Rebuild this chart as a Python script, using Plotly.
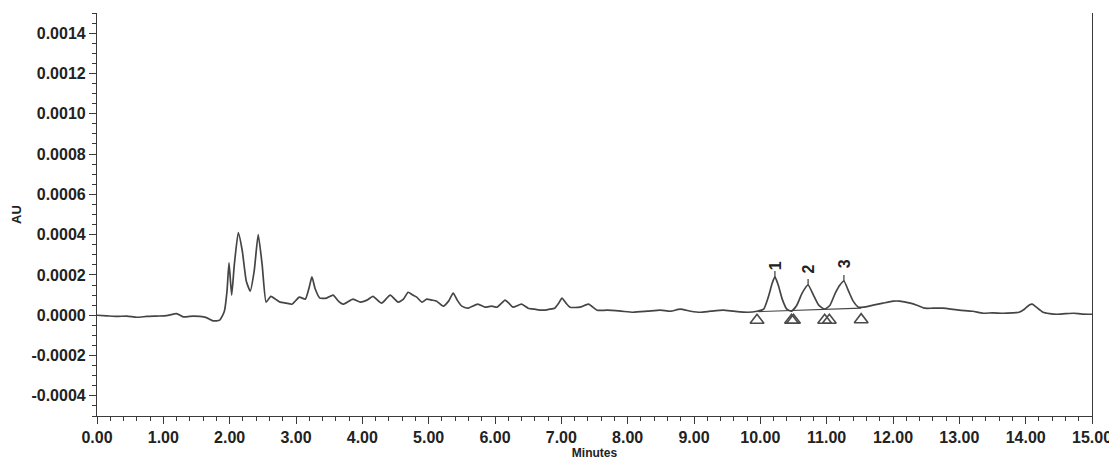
import plotly.graph_objects as go

# Chromatogram trace (minutes, AU)
time_min = [0.0, 0.15, 0.3, 0.45, 0.6, 0.75, 0.9, 1.05, 1.2, 1.3, 1.45, 1.55, 1.65, 1.75, 1.85,
            1.92, 1.96, 1.99, 2.03, 2.07, 2.13, 2.19, 2.25, 2.31, 2.37, 2.43, 2.49, 2.55, 2.62,
            2.69, 2.76, 2.85, 2.94, 3.05, 3.14, 3.2, 3.24, 3.29, 3.36, 3.46, 3.56, 3.64, 3.71,
            3.86, 3.97, 4.07, 4.16, 4.29, 4.42, 4.54, 4.62, 4.69, 4.76, 4.82, 4.9, 4.97, 5.05,
            5.12, 5.22, 5.3, 5.37, 5.43, 5.5, 5.59, 5.74, 5.85, 5.95, 6.03, 6.1, 6.15, 6.21,
            6.27, 6.4, 6.5, 6.6, 6.72, 6.82, 6.9, 6.96, 7.01, 7.07, 7.13, 7.28, 7.41, 7.54,
            7.69, 7.9, 8.08, 8.3, 8.49, 8.65, 8.79, 8.95, 9.09, 9.25, 9.44, 9.6, 9.81, 9.95,
            10.05, 10.12, 10.18, 10.22, 10.27, 10.33, 10.40, 10.47, 10.55, 10.63, 10.72, 10.80,
            10.88, 10.97, 11.05, 11.13, 11.20, 11.26, 11.33, 11.40, 11.48, 11.55, 11.7, 11.85,
            12.0, 12.1, 12.26, 12.36, 12.48, 12.6, 12.75, 13.0, 13.2, 13.36, 13.5, 13.66, 13.8,
            13.9, 13.98, 14.05, 14.1, 14.16, 14.26, 14.36, 14.47, 14.6, 14.72, 14.85, 15.0]
absorb = [0.0, -0.000003, -0.000006, -0.000004, -0.00001, -0.000006, -0.000004, -0.000002,
          0.000008, -0.000008, -0.000004, -0.000006, -0.000012, -0.000028, -0.000024,
          0.00002, 0.00012, 0.00026, 0.0001, 0.00025, 0.00041, 0.00032, 0.00017, 0.00012,
          0.00022, 0.0004, 0.00025, 0.000065, 0.000094, 0.00008, 0.000065, 0.00006, 0.000055,
          0.00009, 0.00008, 0.00014, 0.00019, 0.00013, 0.000085, 0.000085, 0.0001, 0.00007,
          0.000055, 0.00008, 0.000065, 0.000075, 0.000094, 0.00006, 0.0001, 0.000065, 0.00008,
          0.000114, 0.0001, 0.00009, 0.000065, 0.00008, 0.000075, 0.00007, 0.000045, 0.00007,
          0.00011, 0.000075, 0.000045, 0.000035, 0.000055, 0.00004, 0.000045, 0.00004,
          0.00006, 0.000075, 0.00006, 0.00004, 0.000055, 0.000035, 0.00003, 0.000025, 0.00003,
          0.000035, 0.00006, 0.000085, 0.00006, 0.00004, 0.00004, 0.000055, 0.000025,
          0.000025, 0.00002, 0.000015, 0.00002, 0.000025, 0.00002, 0.00003, 0.00002, 0.000015,
          0.00002, 0.000025, 0.00002, 0.000015, 0.00002,
          0.00003, 0.00009, 0.00016, 0.00019, 0.00015, 0.00008, 0.00003, 0.00002, 0.00005,
          0.00011, 0.00015, 0.0001, 0.00005, 0.00003, 0.00005, 0.00011, 0.00015, 0.00017,
          0.00012, 0.00007, 0.00004, 0.00004, 0.00005, 0.00006, 0.00007, 0.00007, 0.00006,
          0.00005, 0.000035, 0.000035, 0.000035, 0.000025, 0.00002, 0.00001, 0.000012,
          0.00001, 0.000012, 0.000015, 0.00003, 0.00005, 0.000055, 0.00004, 0.000015,
          0.000008, 0.000005, 0.000008, 0.00001, 0.000006, 0.000005]

# Integrated peaks
peak_names = ["1", "2", "3"]
peak_time = [10.22, 10.72, 11.26]
peak_top = [0.00019, 0.00015, 0.00017]
label_y = [0.000248, 0.000228, 0.000258]

# Integration baseline and start/end markers
base_time = [9.97, 11.52]
base_au = [0.000018, 0.000035]
marker_time = [9.95, 10.47, 10.50, 10.97, 11.04, 11.52]
marker_au = [-0.000025, -0.000025, -0.000025, -0.000025, -0.000025, -0.000022]

x_ticks = [0, 1, 2, 3, 4, 5, 6, 7, 8, 9, 10, 11, 12, 13, 14, 15]
x_text = ["0.00", "1.00", "2.00", "3.00", "4.00", "5.00", "6.00", "7.00", "8.00",
          "9.00", "10.00", "11.00", "12.00", "13.00", "14.00", "15.00"]
y_ticks = [-0.0004, -0.0002, 0.0, 0.0002, 0.0004, 0.0006, 0.0008, 0.0010, 0.0012, 0.0014]
y_text = ["-0.0004", "-0.0002", "0.0000", "0.0002", "0.0004", "0.0006", "0.0008",
          "0.0010", "0.0012", "0.0014"]

FONT = "Liberation Sans, Arial, sans-serif"
INK = "#3a3a3a"

fig = go.Figure()
fig.add_trace(go.Scatter(x=time_min, y=absorb, mode="lines",
                         line=dict(color="#454545", width=1.7, shape="spline", smoothing=0.5),
                         hoverinfo="skip", showlegend=False))
fig.add_trace(go.Scatter(x=base_time, y=base_au, mode="lines",
                         line=dict(color="#454545", width=1.2),
                         hoverinfo="skip", showlegend=False))
fig.add_trace(go.Scatter(x=marker_time, y=marker_au, mode="markers",
                         marker=dict(symbol="triangle-up-open", size=12,
                                     color="#4a4a4a", line=dict(width=1.6, color="#4a4a4a")),
                         hoverinfo="skip", showlegend=False))

for name, t, top, ly in zip(peak_names, peak_time, peak_top, label_y):
    fig.add_shape(type="line", x0=t, x1=t, y0=top, y1=top + 0.00003,
                  line=dict(color=INK, width=1.2))
    fig.add_annotation(x=t, y=ly, text="<b>" + name + "</b>", showarrow=False,
                       textangle=-90, font=dict(family=FONT, size=16, color="#222222"))

# page body adds an 8px margin, so the figure is 8px smaller and left/top margins shifted
fig.update_layout(
    width=1109, height=458,
    margin=dict(l=89, r=25, t=5, b=50),
    paper_bgcolor="white", plot_bgcolor="white",
    font=dict(family=FONT, color="#222222"),
    xaxis=dict(range=[0, 15], tickmode="array", tickvals=x_ticks, ticktext=x_text,
               automargin=False,
               showgrid=False, zeroline=False, showline=True, linecolor=INK, linewidth=1.2,
               ticks="outside", ticklen=7, tickwidth=1.2, tickcolor=INK,
               minor=dict(dtick=0.2, tick0=0, ticks="outside", ticklen=4, tickcolor=INK,
                          tickwidth=1, showgrid=False),
               tickfont=dict(family=FONT, size=16, color="#222222", weight="bold"),
               title=dict(text="<b>Minutes</b>", standoff=3,
                          font=dict(family=FONT, size=12, color="#222222"))),
    yaxis=dict(range=[-0.0005, 0.0015], tickmode="array", tickvals=y_ticks, ticktext=y_text,
               automargin=False,
               showgrid=False, zeroline=False, showline=True, linecolor=INK, linewidth=1.2,
               mirror=True,
               ticks="outside", ticklen=7, tickwidth=1.2, tickcolor=INK,
               minor=dict(dtick=0.00005, tick0=0, ticks="outside", ticklen=4, tickcolor=INK,
                          tickwidth=1, showgrid=False),
               tickfont=dict(family=FONT, size=16, color="#222222", weight="bold"),
               title=dict(text="<b>AU</b>", standoff=6,
                          font=dict(family=FONT, size=13, color="#222222"))),
)

fig.write_html("out.html")
